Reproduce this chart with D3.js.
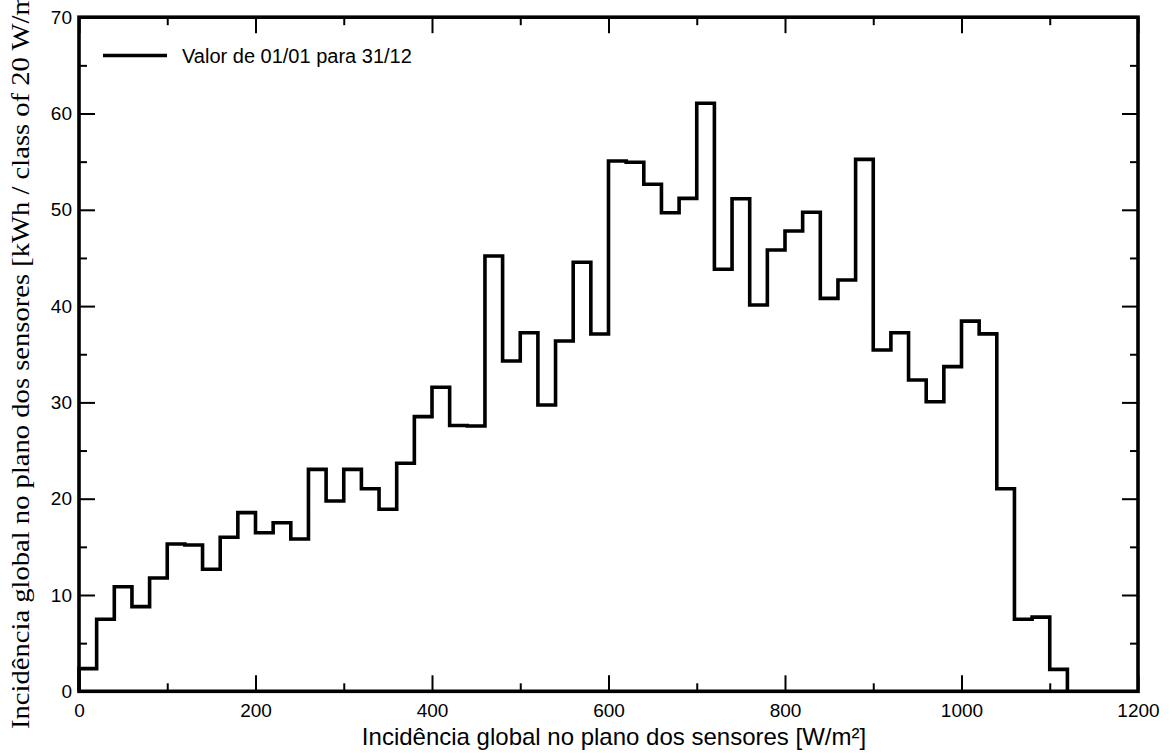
<!DOCTYPE html>
<html>
<head>
<meta charset="utf-8">
<script src="https://cdn.jsdelivr.net/npm/d3@7"></script>
<style>
  html, body { margin: 0; padding: 0; background: #fff; }
  svg { display: block; }
  .tick text { font-family: "Liberation Sans", Arial, sans-serif; font-size: 19px; fill: #000; }
</style>
</head>
<body>
<svg id="chart" width="1171" height="755"></svg>
<script>
// Class edges (lower bound of each 20 W/m² class)
const classStarts = [
  0, 20, 40, 60, 80, 100, 120, 140, 160, 180,
  200, 220, 240, 260, 280, 300, 320, 340, 360, 380,
  400, 420, 440, 460, 480, 500, 520, 540, 560, 580,
  600, 620, 640, 660, 680, 700, 720, 740, 760, 780,
  800, 820, 840, 860, 880, 900, 920, 940, 960, 980,
  1000, 1020, 1040, 1060, 1080, 1100
];
const classWidth = 20;

// Energy per class [kWh]
const energy = [
  2.35, 7.48, 10.86, 8.79, 11.77, 15.3, 15.19, 12.67, 15.99, 18.55,
  16.47, 17.51, 15.82, 23.05, 19.76, 23.05, 21.04, 18.9, 23.68, 28.52,
  31.57, 27.6, 27.55, 45.2, 34.3, 37.24, 29.73, 36.38, 44.55, 37.1,
  55.07, 54.93, 52.65, 49.7, 51.19, 61.06, 43.82, 51.15, 40.11, 45.82,
  47.8, 49.74, 40.8, 42.71, 55.24, 35.44, 37.24, 32.33, 30.07, 33.71,
  38.44, 37.12, 21.04, 7.48, 7.7, 2.28
];

const xMajorTicks = [0, 200, 400, 600, 800, 1000, 1200];
const xMinorTicks = [100, 300, 500, 700, 900, 1100];
const yMajorTicks = [0, 10, 20, 30, 40, 50, 60, 70];
const yMinorTicks = [5, 15, 25, 35, 45, 55, 65];

const legendLabel = "Valor de 01/01 para 31/12";
const xTitle = "Incidência global no plano dos sensores [W/m²]";
const yTitle = "Incidência global no plano dos sensores [kWh / class of 20 W/m²]";

const svg = d3.select("#chart");
const plotLeft = 79, plotRight = 1138, plotTop = 17.2, plotBottom = 691.3;

const x = d3.scaleLinear().domain([0, 1200]).range([plotLeft, plotRight]);
const y = d3.scaleLinear().domain([0, 70]).range([plotBottom, plotTop]);

// Inward ticks on all four sides
function addAxis(gen, transform, ticks, size, labels, padding) {
  const g = svg.append("g").attr("transform", transform)
    .call(gen.tickValues(ticks).tickSize(size).tickPadding(padding)
      .tickFormat(labels ? d3.format("d") : () => ""));
  g.select(".domain").remove();
  g.selectAll(".tick line").attr("stroke", "#000").attr("stroke-width", 2);
  return g;
}
addAxis(d3.axisBottom(x), `translate(0,${plotBottom})`, xMajorTicks, -16, true, 12);
addAxis(d3.axisBottom(x), `translate(0,${plotBottom})`, xMinorTicks, -8, false, 0);
addAxis(d3.axisTop(x), `translate(0,${plotTop})`, xMajorTicks, -16, false, 0);
addAxis(d3.axisTop(x), `translate(0,${plotTop})`, xMinorTicks, -8, false, 0);
addAxis(d3.axisLeft(y), `translate(${plotLeft},0)`, yMajorTicks, -16, true, 7);
addAxis(d3.axisLeft(y), `translate(${plotLeft},0)`, yMinorTicks, -8, false, 0);
addAxis(d3.axisRight(y), `translate(${plotRight},0)`, yMajorTicks, -16, false, 0);
addAxis(d3.axisRight(y), `translate(${plotRight},0)`, yMinorTicks, -8, false, 0);

// Step outline of the histogram
const pts = [{x: classStarts[0], v: 0}];
classStarts.forEach((s, i) => pts.push({x: s, v: energy[i]}));
const lastEdge = classStarts[classStarts.length - 1] + classWidth;
pts.push({x: lastEdge, v: energy[energy.length - 1]});
pts.push({x: lastEdge, v: 0});

const line = d3.line().x(d => x(d.x)).y(d => y(d.v)).curve(d3.curveStepAfter);
svg.append("path")
  .attr("d", line(pts))
  .attr("fill", "none")
  .attr("stroke", "#000")
  .attr("stroke-width", 3.6)
  .attr("stroke-linejoin", "miter");

// Plot frame
svg.append("rect")
  .attr("x", plotLeft).attr("y", plotTop)
  .attr("width", plotRight - plotLeft).attr("height", plotBottom - plotTop)
  .attr("fill", "none").attr("stroke", "#000").attr("stroke-width", 3.6);

// Legend
svg.append("line")
  .attr("x1", 103).attr("x2", 167).attr("y1", 55.5).attr("y2", 55.5)
  .attr("stroke", "#000").attr("stroke-width", 3.6);
svg.append("text")
  .attr("x", 182).attr("y", 62.5)
  .attr("font-family", "Liberation Sans, Arial, sans-serif")
  .attr("font-size", 20)
  .text(legendLabel);

// Axis titles
svg.append("text")
  .attr("x", 614).attr("y", 745)
  .attr("text-anchor", "middle")
  .attr("font-family", "Liberation Sans, Arial, sans-serif")
  .attr("font-size", 24)
  .text(xTitle);

// Vertical title runs past the top edge and is cut there
svg.append("text")
  .attr("transform", "translate(28.5,729) rotate(-90) scale(1.1,1)")
  .attr("font-family", "Liberation Serif, Times New Roman, serif")
  .attr("font-size", 26)
  .text(yTitle);
</script>
</body>
</html>
